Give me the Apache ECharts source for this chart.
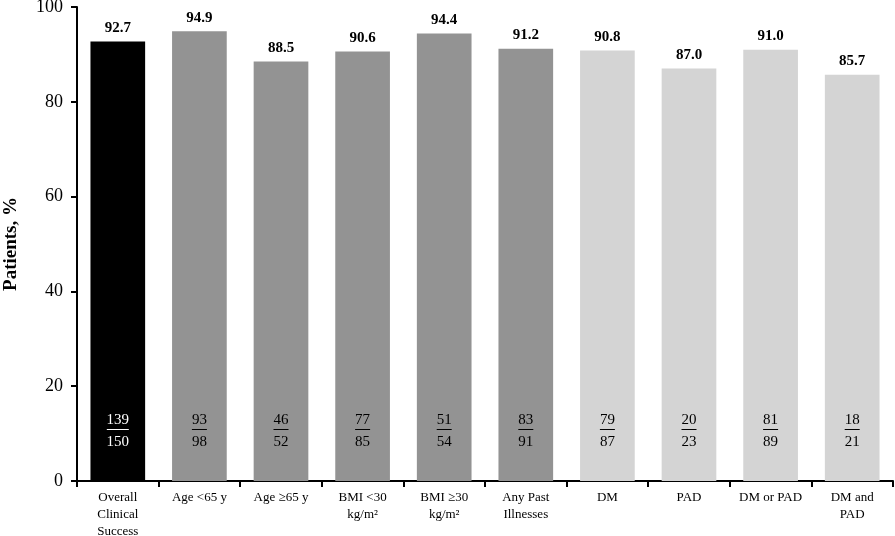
<!DOCTYPE html>
<html>
<head>
<meta charset="utf-8">
<script src="https://cdn.jsdelivr.net/npm/echarts@6/dist/echarts.min.js"></script>
<style>
    html, body { margin: 0; padding: 0; background: #fff; }
    #chart { width: 895px; height: 536px; }
</style>
</head>
<body>
<div id="chart"></div>
<script>
// categories and values
var categories = ['Overall\nClinical\nSuccess', 'Age <65 y', 'Age \u226565 y', 'BMI <30\nkg/m\u00b2', 'BMI \u226530\nkg/m\u00b2',
    'Any Past\nIllnesses', 'DM', 'PAD', 'DM or PAD', 'DM and\nPAD'];
var percents = [92.7, 94.9, 88.5, 90.6, 94.4, 91.2, 90.8, 87.0, 91.0, 85.7];
var numerators = [139, 93, 46, 77, 51, 83, 79, 20, 81, 18];
var denominators = [150, 98, 52, 85, 54, 91, 87, 23, 89, 21];
var groups = [0, 1, 1, 1, 1, 1, 2, 2, 2, 2]; // 0 overall, 1 dark gray, 2 light gray
var yTicks = [0, 20, 40, 60, 80, 100];

var fillColors = ['#000000', '#939393', '#d4d4d4'];
var textColors = ['#ffffff', '#000000', '#000000'];
var serif = '"Liberation Serif", "DejaVu Serif", serif';

var myChart = echarts.init(document.getElementById('chart'));

var barData = percents.map(function(v, i) {
    var g = groups[i];
    var tc = textColors[g];
    return {
        value: v,
        itemStyle: { color: fillColors[g] },
        label: {
            rich: {
                n: { fontSize: 15, fontFamily: serif, color: tc, lineHeight: 15 },
                u2: { width: 15, height: 1, backgroundColor: tc, lineHeight: 3 },
                u3: { width: 22, height: 1, backgroundColor: tc, lineHeight: 3 },
                d: { fontSize: 15, fontFamily: serif, color: tc, lineHeight: 22 }
            }
        }
    };
});

var option = {
    animation: false,
    grid: { left: 77, right: 2, top: 7, bottom: 55, outerBoundsMode: 'none', containLabel: false },
    xAxis: {
        type: 'category',
        data: categories,
        axisLine: { lineStyle: { color: '#000', width: 2 } },
        axisTick: { show: true, length: 6, lineStyle: { color: '#000', width: 2 } },
        axisLabel: {
            color: '#000', fontFamily: serif, fontSize: 13, lineHeight: 17, margin: 8,
            interval: 0
        }
    },
    yAxis: {
        type: 'value',
        min: yTicks[0],
        max: yTicks[yTicks.length - 1],
        interval: 20,
        name: 'Patients, %',
        nameLocation: 'middle',
        nameGap: 56,
        nameTextStyle: { color: '#000', fontFamily: serif, fontSize: 19, fontWeight: 'bold' },
        axisLine: { show: true, lineStyle: { color: '#000', width: 2 } },
        axisTick: { show: true, length: 6, lineStyle: { color: '#000', width: 2 } },
        axisLabel: { color: '#000', fontFamily: serif, fontSize: 18, margin: 14 },
        splitLine: { show: false }
    },
    series: [{
        // main bars with the fraction inside
        type: 'bar',
        data: barData,
        barCategoryGap: '33%',
        label: {
            show: true,
            position: 'insideBottom',
            distance: 28,
            formatter: function(p) {
                var n = numerators[p.dataIndex];
                var u = String(n).length > 2 ? 'u3' : 'u2';
                return '{n|' + n + '}\n{' + u + '|}\n{d|' + denominators[p.dataIndex] + '}';
            }
        }
    }, {
        // percentage on top, same bars, invisible
        type: 'bar',
        data: percents,
        barGap: '-100%',
        barCategoryGap: '33%',
        itemStyle: { color: 'rgba(0,0,0,0)' },
        label: {
            show: true,
            position: 'top',
            distance: 6,
            color: '#000',
            fontFamily: serif,
            fontSize: 15,
            fontWeight: 'bold',
            formatter: function(p) { return p.value.toFixed(1); }
        }
    }]
};
myChart.setOption(option);
</script>
</body>
</html>
